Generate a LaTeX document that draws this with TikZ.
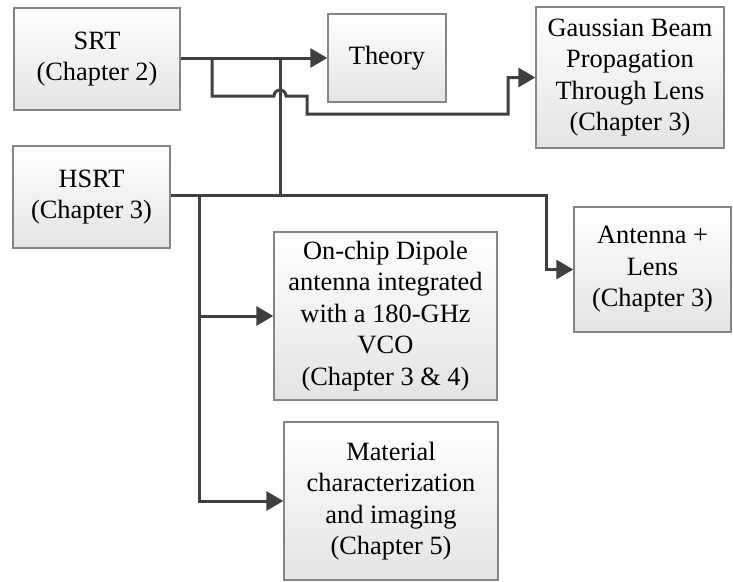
\documentclass[tikz,border=0pt]{standalone}
\usepackage{fontspec}
\setmainfont{Liberation Serif}
\usepackage{xcolor}
\usetikzlibrary{positioning,arrows.meta,calc}
\definecolor{THline}{HTML}{404040}
\definecolor{THedge}{HTML}{858585}
\definecolor{THshade}{HTML}{E4E4E4}
\tikzset{
  chapbox/.style={draw=THedge, line width=1.3pt, top color=white, bottom color=THshade, align=center, inner sep=2pt, font=\fontsize{26.4}{31.5}\selectfont, text=black},
  linkline/.style={line width=3pt, draw=THline},
  linkarr/.style={linkline, -{Triangle[length=17pt, width=19pt]}}
}
\begin{document}
\begin{tikzpicture}[x=1pt, y=-1pt]
\useasboundingbox (0,0) rectangle (733,581);
\node[chapbox, minimum width=166pt, minimum height=102pt] (srt) at (97,59) {SRT\\(Chapter 2)};
\node[chapbox, minimum width=157pt, minimum height=102pt] (hsrt) at (91.5,197) {HSRT\\(Chapter 3)};
\node[chapbox, minimum width=118pt, minimum height=88pt] (theory) at (387,58) {Theory};
\node[chapbox, minimum width=188pt, minimum height=141pt] (gauss) at (630,77.5) {Gaussian Beam\\Propagation\\Through Lens\\(Chapter 3)};
\node[chapbox, minimum width=157pt, minimum height=125pt] (antenna) at (652.5,269.5) {Antenna +\\Lens\\(Chapter 3)};
\node[chapbox, minimum width=223pt, minimum height=168pt] (onchip) at (385.5,316) {On-chip Dipole\\antenna integrated\\with a 180-GHz\\VCO\\(Chapter 3 \& 4)};
\node[chapbox, minimum width=214pt, minimum height=158pt] (material) at (391,501) {Material\\characterization\\and imaging\\(Chapter 5)};
% junctions
\coordinate (j1) at (212,58);
\coordinate (j2) at (280,58);
\coordinate (j3) at (280,195);
\coordinate (j4) at (199,195);
% SRT links
\draw[linkarr] (srt.east |- theory.west) -- (theory.west);
\draw[linkarr] (j1) -- (212,96) -- (274,96) arc[start angle=180, end angle=360, radius=6] -- (307,96) -- (307,114) -- (508,114) -- (508,0 |- gauss.west) -- (gauss.west);
\draw[linkline] (j2) -- (j3);
% HSRT links
\draw[linkarr] (hsrt.east |- j3) -- (546,195) -- (546,0 |- antenna.west) -- (antenna.west);
\draw[linkarr] (j4) -- (j4 |- onchip.west) -- (onchip.west);
\draw[linkarr] (j4) -- (j4 |- material.west) -- (material.west);
\end{tikzpicture}
\end{document}
